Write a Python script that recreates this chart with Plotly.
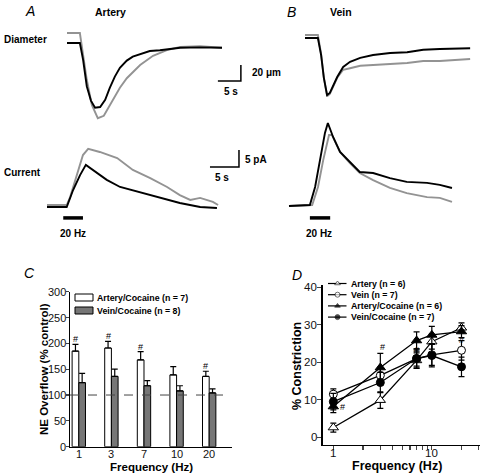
import numpy as np
import plotly.graph_objects as go

# ---------------- DATA ----------------
# Panel A (artery) diameter traces: time (s), diameter change (um)
A_DIAM_T_BLACK = [0, 2.8, 3.5, 4.3, 5.2, 6.1, 7.2, 8.3, 9.3, 10.4, 11.5, 13.0, 14.3, 15.9, 18.0, 20.2, 24.6, 28.9, 33.7]
A_DIAM_BLACK = [0, 0, -21, -54, -72, -81, -80, -71, -56, -42, -31, -22, -17, -14, -10, -9, -6, -5.5, -6]
A_DIAM_T_GRAY = [0, 2.8, 3.5, 4.3, 5.4, 6.7, 8.0, 10.0, 11.5, 13.0, 15.9, 18.7, 21.7, 24.6, 28.9, 33.7]
A_DIAM_GRAY = [12.5, 12.5, -15, -46, -77.5, -94, -91, -71, -56, -44, -27.5, -16, -9, -5, -4, -6]
# Panel A current traces: time (s), current (pA)
A_CURR_T_BLACK = [0, 3.4, 4.5, 5.7, 6.7, 7.9, 10.3, 12.6, 16.0, 19.5, 22.9, 26.4, 29.3]
A_CURR_BLACK = [-0.6, -0.6, 4.4, 8.8, 11.8, 10.3, 7.4, 5.3, 3.8, 2.1, 0.6, -0.6, -0.9]
A_CURR_T_GRAY = [0, 3.4, 4.0, 5.2, 6.2, 7.1, 9.1, 12.1, 14.8, 17.8, 20.7, 22.9, 24.7, 26.4, 28.6, 29.5]
A_CURR_GRAY = [0, 0, 2.4, 9.4, 14.7, 16.5, 15.6, 13.8, 10.3, 7.9, 5.3, 2.9, 1.5, 2.1, 0.9, 0]
A_STIM = [2.8, 6.2]

# Panel B (vein)
B_DIAM_T = [0, 2.8, 3.5, 4.1, 4.8, 5.4, 7.0, 8.3, 9.8, 12.0, 14.8, 18.5, 22.2, 25.7, 29.3, 35.9]
B_DIAM_BLACK = [-1.2, -1.2, -22.5, -51, -72.5, -70, -50, -37.5, -31, -26, -22.5, -20, -19, -16, -15, -14]
B_DIAM_GRAY = [2.5, 2.5, -21, -51, -74, -71, -51, -41, -39, -36, -35, -34, -32.5, -30, -30, -27.5]
B_CURR_T_BLACK = [0, 3.6, 4.5, 5.3, 6.2, 6.7, 7.6, 8.8, 10.5, 12.2, 14.5, 17.4, 20.3, 23.8, 26.0, 28.1]
B_CURR_BLACK = [0, 0.3, 5.6, 13.5, 21.5, 24.4, 20.3, 15.9, 12.9, 10.0, 9.7, 8.2, 7.1, 6.8, 6.2, 5.3]
B_CURR_T_GRAY = [0, 4.0, 5.0, 5.9, 6.9, 7.4, 8.8, 10.5, 12.2, 14.5, 17.4, 20.3, 23.8, 26.0, 28.1]
B_CURR_GRAY = [0, 0.3, 5.6, 13.5, 20.9, 20.9, 15.9, 12.6, 9.7, 7.6, 5.3, 3.8, 2.6, 2.4, 1.2]
B_STIM = [3.6, 7.1]

SCALE_T = 5      # s
SCALE_DIAM = 20  # um
SCALE_CURR = 5   # pA

# Panel C: NE overflow (% control)
FREQ_LABELS = ["1", "3", "7", "10", "20"]
C_YTICKS = [0, 50, 100, 150, 200, 250, 300]
ART_COC_NE = [185, 191, 168, 139, 136]
ART_COC_NE_ERR = [13, 13, 16, 16, 10]
VEIN_COC_NE = [124, 136, 118, 108, 104]
VEIN_COC_NE_ERR = [18, 14, 10, 10, 8]
C_SIG = [0, 1, 2, 4]  # indices marked "#"

# Panel D: % constriction
FREQ_HZ = [1, 3, 7, 10, 20]
D_TICK_LABELS = [1, 10]
D_YTICKS = [0, 10, 20, 30, 40]
ARTERY = [2.6, 9.9, 20.5, 25.5, 29.2]
ARTERY_ERR = [1.2, 2.2, 2.0, 2.0, 1.3]
VEIN = [11.5, 16.5, 21.0, 22.0, 23.2]
VEIN_ERR = [1.4, 2.0, 2.0, 2.8, 2.6]
ART_COC = [8.2, 18.6, 25.8, 27.3, 28.2]
ART_COC_ERR = [1.6, 3.8, 2.3, 2.3, 1.6]
VEIN_COC = [9.5, 14.6, 21.0, 21.8, 18.8]
VEIN_COC_ERR = [2.2, 2.7, 2.6, 3.0, 2.6]

# ---------------- LAYOUT HELPERS ----------------
W, H = 480, 474
FONT = "Arial, 'Liberation Sans', Helvetica, sans-serif"
GRAY = "#939393"


def xd(a, b):
    return [a / W, b / W]


def yd(top, bottom):
    return [1 - bottom / H, 1 - top / H]


def px(x):
    return x / W


def py(y):
    return 1 - y / H


fig = go.Figure()


def add_line(x, y, color, xa, ya, width=1.9):
    fig.add_trace(go.Scatter(x=x, y=y, mode="lines", line=dict(color=color, width=width),
                             xaxis=xa, yaxis=ya, showlegend=False, hoverinfo="skip"))


# ---- Panel A ----
add_line(A_DIAM_T_GRAY, A_DIAM_GRAY, GRAY, "x", "y")
add_line(A_DIAM_T_BLACK, A_DIAM_BLACK, "black", "x", "y")
add_line(A_CURR_T_GRAY, A_CURR_GRAY, GRAY, "x2", "y2")
add_line(A_CURR_T_BLACK, A_CURR_BLACK, "black", "x2", "y2")
add_line(A_STIM, [-3.8, -3.8], "black", "x2", "y2", width=3.5)
# scale bars (A diameter axes)
sx, sy = 37.8, -47.5
add_line([sx - SCALE_T, sx, sx], [sy, sy, sy + SCALE_DIAM], "black", "x", "y", width=1.5)
# scale bars (A current axes)
cx, cy = 33.1, 11.2
add_line([cx - SCALE_T, cx, cx], [cy, cy, cy + SCALE_CURR], "black", "x2", "y2", width=1.5)

# ---- Panel B ----
add_line(B_DIAM_T, B_DIAM_GRAY, GRAY, "x3", "y3")
add_line(B_DIAM_T, B_DIAM_BLACK, "black", "x3", "y3")
add_line(B_CURR_T_GRAY, B_CURR_GRAY, GRAY, "x4", "y4")
add_line(B_CURR_T_BLACK, B_CURR_BLACK, "black", "x4", "y4")
add_line(B_STIM, [-3.5, -3.5], "black", "x4", "y4", width=3.5)

# ---- Panel C ----
idx = list(range(len(FREQ_LABELS)))
fig.add_trace(go.Bar(x=idx, y=ART_COC_NE, name="Artery/Cocaine (n = 7)", offsetgroup="a",
                     marker=dict(color="white", line=dict(color="black", width=1)),
                     error_y=dict(type="data", symmetric=False, array=ART_COC_NE_ERR,
                                  arrayminus=[0] * 5, color="black", thickness=1.2, width=3),
                     xaxis="x5", yaxis="y5", showlegend=False, hoverinfo="skip"))
fig.add_trace(go.Bar(x=idx, y=VEIN_COC_NE, name="Vein/Cocaine (n = 8)", offsetgroup="b",
                     marker=dict(color="#767676", line=dict(color="black", width=1)),
                     error_y=dict(type="data", symmetric=False, array=VEIN_COC_NE_ERR,
                                  arrayminus=[0] * 5, color="black", thickness=1.2, width=3),
                     xaxis="x5", yaxis="y5", showlegend=False, hoverinfo="skip"))

# ---- Panel D ----
D_SERIES = [
    ("Artery (n = 6)", ARTERY, ARTERY_ERR, "triangle-up", "white", 9),
    ("Vein (n = 7)", VEIN, VEIN_ERR, "circle", "white", 8),
    ("Artery/Cocaine (n = 6)", ART_COC, ART_COC_ERR, "triangle-up", "black", 9),
    ("Vein/Cocaine (n = 7)", VEIN_COC, VEIN_COC_ERR, "circle", "black", 8),
]
for name, vals, err, sym, fill, sz in D_SERIES:
    fig.add_trace(go.Scatter(x=FREQ_HZ, y=vals, name=name, mode="lines+markers",
                             line=dict(color="black", width=1.3),
                             marker=dict(symbol=sym, color=fill, size=sz,
                                         line=dict(color="black", width=1)),
                             error_y=dict(type="data", array=err, color="black",
                                          thickness=1.2, width=3),
                             xaxis="x6", yaxis="y6", showlegend=False, hoverinfo="skip"))

# custom legend keys for D (pixel overlay axes)
LEG_D_Y = [283.5, 294.7, 305.9, 317.1]
for (name, vals, err, sym, fill, sz), ly in zip(D_SERIES, LEG_D_Y):
    fig.add_trace(go.Scatter(x=[328, 337.5, 346.5], y=[ly, ly, ly], mode="lines+markers",
                             line=dict(color="black", width=1.2),
                             marker=dict(symbol=sym, color=fill, size=[0, 5, 0],
                                         line=dict(color="black", width=0.8)),
                             xaxis="x7", yaxis="y7", showlegend=False, hoverinfo="skip"))

# ---------------- AXES ----------------
hidden = dict(visible=False, showgrid=False, zeroline=False, fixedrange=True)
layout_axes = dict(
    xaxis=dict(hidden, domain=xd(60, 248), range=[(60 - 67) / 4.6, (248 - 67) / 4.6], anchor="y"),
    yaxis=dict(hidden, domain=yd(25, 125), range=[(43 - 125) / 0.8, (43 - 25) / 0.8], anchor="x"),
    xaxis2=dict(hidden, domain=xd(40, 245), range=[(40 - 47) / 5.8, (245 - 47) / 5.8], anchor="y2"),
    yaxis2=dict(hidden, domain=yd(140, 240), range=[(205 - 240) / 3.4, (205 - 140) / 3.4], anchor="x2"),
    xaxis3=dict(hidden, domain=xd(295, 478), range=[(295 - 305) / 4.6, (478 - 305) / 4.6], anchor="y3"),
    yaxis3=dict(hidden, domain=yd(25, 110), range=[(37 - 110) / 0.8, (37 - 25) / 0.8], anchor="x3"),
    xaxis4=dict(hidden, domain=xd(285, 478), range=[(285 - 289) / 5.8, (478 - 289) / 5.8], anchor="y4"),
    yaxis4=dict(hidden, domain=yd(115, 240), range=[(206 - 240) / 3.4, (206 - 115) / 3.4], anchor="x4"),
    xaxis5=dict(domain=xd(70, 232), range=[-0.27, 4.70], tickvals=idx, showticklabels=False,
                showline=True, linecolor="black", linewidth=1.5, ticks="", showgrid=False,
                zeroline=False, anchor="y5"),
    yaxis5=dict(domain=yd(291.7, 446.7), range=[0, 300], tickvals=C_YTICKS, showticklabels=False,
                showline=True, linecolor="black", linewidth=1.5, ticks="outside", ticklen=3,
                tickwidth=1.2, showgrid=False, zeroline=False, anchor="x5"),
    xaxis6=dict(type="log", domain=xd(322.7, 480), range=[-0.108, 1.489],
                tickvals=[1, 2, 3, 4, 5, 6, 7, 8, 9, 10, 20, 30], showticklabels=False,
                showline=True, linecolor="black", linewidth=1.5, ticks="outside", ticklen=4,
                tickwidth=1.2, showgrid=False, zeroline=False, anchor="y6"),
    yaxis6=dict(domain=yd(285.4, 444.8), range=[-2, 40.5], tickvals=D_YTICKS, showticklabels=False,
                showline=True, linecolor="black", linewidth=1.5, ticks="outside", ticklen=4,
                tickwidth=1.2, showgrid=False, zeroline=False, anchor="x6"),
    xaxis7=dict(hidden, domain=[0, 1], range=[0, W], anchor="y7"),
    yaxis7=dict(hidden, domain=[0, 1], range=[H, 0], anchor="x7"),
)

# ---------------- ANNOTATIONS ----------------
ann = []


def text(x, y, s, size=10, anchor="center", bold=True, italic=False, angle=0):
    t = s
    if bold:
        t = "<b>" + t + "</b>"
    if italic:
        t = "<i>" + t + "</i>"
    ann.append(dict(x=px(x), y=py(y), xref="paper", yref="paper", text=t, showarrow=False,
                    xanchor=anchor, yanchor="middle", textangle=angle,
                    font=dict(size=size, color="black", family=FONT)))


text(30, 11, "A", size=14, bold=False, italic=True)
text(110, 12, "Artery", size=10.5)
text(291, 12, "B", size=14, bold=False, italic=True)
text(341, 12, "Vein", size=10.5)
text(25, 40, "Diameter", size=10)
text(22, 172, "Current", size=10)
text(73, 233, "20 Hz", size=10)
text(319, 233, "20 Hz", size=10)
text(250, 72, "20 μm", size=10, anchor="left")
text(231, 92, "5 s", size=10)
text(243, 159, "5 pA", size=10, anchor="left")
text(222, 177, "5 s", size=10)

text(29, 273, "C", size=14, bold=False, italic=True)
text(44, 369, "NE Overflow (% control)", size=11.5, angle=-90)
text(151, 467, "Frequency (Hz)", size=11.5)
text(297, 275, "D", size=14, bold=False, italic=True)
text(297, 366, "% Constriction", size=12.5, angle=-90)
text(397, 466, "Frequency (Hz)", size=12.5)

TICKFONT_C = dict(size=11, color="#111", family=FONT)
TICKFONT_D = dict(size=11.5, color="#111", family=FONT)
# tick labels (annotations so their offsets match the reference)
for i, lab in zip(idx, FREQ_LABELS):
    ann.append(dict(x=i, y=py(454), xref="x5", yref="paper", text=lab, showarrow=False,
                    xanchor="center", yanchor="middle", font=TICKFONT_C))
for v in C_YTICKS:
    ann.append(dict(x=px(67), y=v, xref="paper", yref="y5", text=str(v), showarrow=False,
                    xanchor="right", yanchor="middle", xshift=1, font=TICKFONT_C))
for v in D_TICK_LABELS:
    ann.append(dict(x=np.log10(v), y=py(452.5), xref="x6", yref="paper", text=str(v),
                    showarrow=False, xanchor="center", yanchor="middle", font=TICKFONT_D))
for v in D_YTICKS:
    ann.append(dict(x=px(318), y=v, xref="paper", yref="y6", text=str(v), showarrow=False,
                    xanchor="right", yanchor="middle", xshift=1, font=TICKFONT_D))

# C legend
text(95, 297.5, "Artery/Cocaine (n = 7)", size=8.8, anchor="left")
text(95, 310.5, "Vein/Cocaine (n = 8)", size=8.8, anchor="left")
# D legend
for (name, *_), ly in zip(D_SERIES, LEG_D_Y):
    text(349, ly, name, size=8.8, anchor="left")

# "#" marks in C
for i in C_SIG:
    ann.append(dict(x=i - 0.1025, y=ART_COC_NE[i] + ART_COC_NE_ERR[i], xref="x5", yref="y5",
                    text="#", showarrow=False, yanchor="bottom", yshift=-2,
                    font=dict(size=9, color="black", family=FONT)))
# "#" marks in D (log axis uses log10 positions)
D_SIG = [(0, ART_COC[0], 9, 0), (1, ART_COC[1] + ART_COC_ERR[1], 2, 6),
         (2, 23.3, 0, 0), (4, 26.0, 0, 0)]
for i, yv, xs, ys in D_SIG:
    ann.append(dict(x=np.log10(FREQ_HZ[i]), y=yv, xref="x6", yref="y6", text="#",
                    showarrow=False, xshift=xs, yshift=ys,
                    font=dict(size=9, color="black", family=FONT)))

shapes = [
    dict(type="line", xref="x5 domain", yref="y5", x0=0, x1=1, y0=100, y1=100,
         line=dict(color="#444", width=1, dash="dash"), layer="above"),
    dict(type="rect", xref="paper", yref="paper", x0=px(75), x1=px(93), y0=py(301), y1=py(294),
         fillcolor="white", line=dict(color="black", width=1)),
    dict(type="rect", xref="paper", yref="paper", x0=px(75), x1=px(93), y0=py(314), y1=py(307),
         fillcolor="#767676", line=dict(color="black", width=1)),
]

fig.update_layout(
    width=W, height=H, margin=dict(l=0, r=0, t=0, b=0),
    paper_bgcolor="white", plot_bgcolor="rgba(0,0,0,0)",
    barmode="group", bargap=0.59, bargroupgap=0,
    showlegend=False, font=dict(family=FONT, color="black"),
    annotations=ann, shapes=shapes, **layout_axes,
)

fig.write_html("out.html", config={"displayModeBar": False, "staticPlot": True},
               post_script="document.body.style.margin='0px';")
